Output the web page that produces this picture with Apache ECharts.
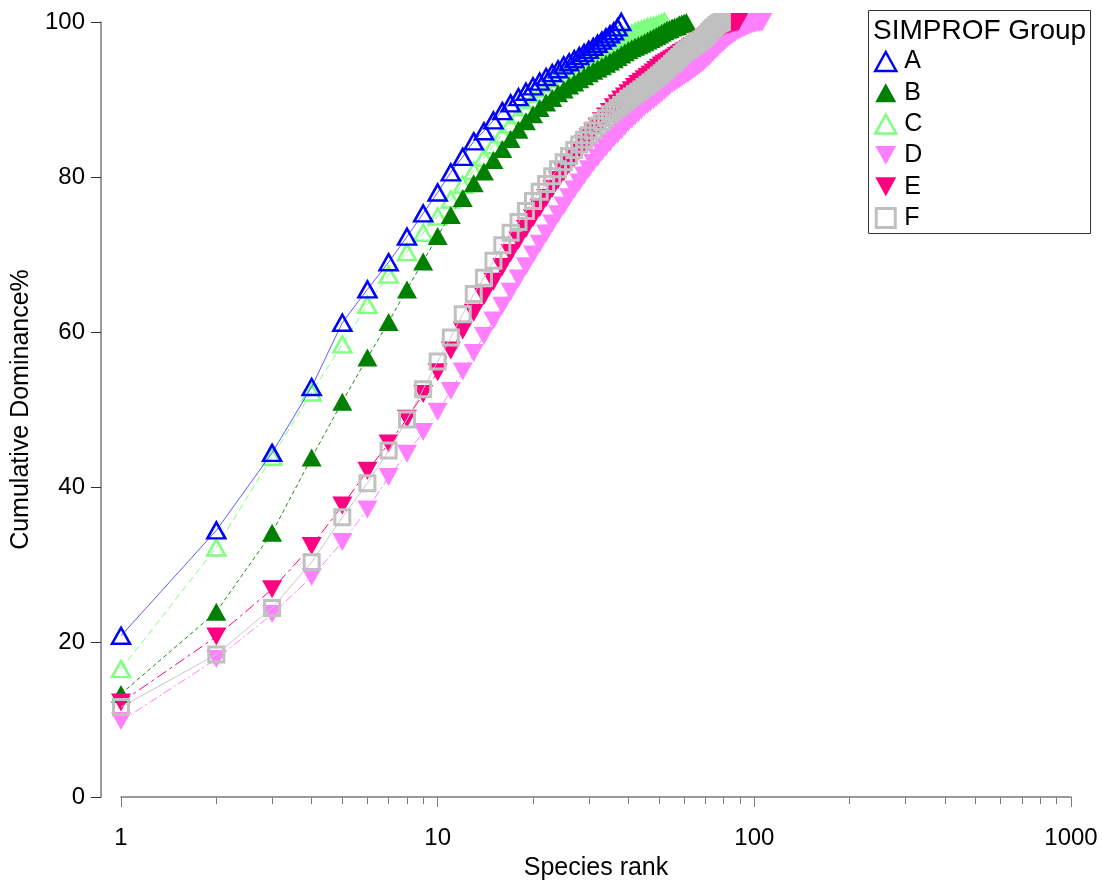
<!DOCTYPE html>
<html><head><meta charset="utf-8">
<script src="https://cdn.jsdelivr.net/npm/echarts@6/dist/echarts.min.js"></script>
<style>html,body{margin:0;padding:0;background:#fff}#c{width:1102px;height:886px}</style>
</head><body><div id="c"></div>
<script>
// ---- data (cumulative dominance % by species rank 1..n) ----
const groupA = [20.8, 34.4, 44.4, 52.9, 61.2, 65.5, 69.0, 72.3, 75.3, 78.0,
  80.6, 82.6, 84.6, 85.9, 87.3, 88.5, 89.5, 90.3, 91.0, 91.7,
  92.3, 92.9, 93.4, 93.9, 94.4, 94.8, 95.2, 95.6, 96.0, 96.4,
  96.8, 97.2, 97.6, 98.0, 98.4, 98.8, 99.3, 100];
const groupB = [13.3, 23.9, 34.1, 43.8, 51.0, 56.7, 61.3, 65.5, 69.1, 72.4,
  75.1, 77.3, 79.2, 80.7, 82.2, 83.6, 84.9, 86.1, 87.2, 88.1,
  88.9, 89.6, 90.2, 90.8, 91.3, 91.8, 92.2, 92.6, 93.0, 93.4,
  93.7, 94.0, 94.3, 94.6, 94.9, 95.2, 95.5, 95.8, 96.1, 96.4,
  96.6, 96.8, 97.0, 97.2, 97.4, 97.6, 97.8, 98.0, 98.2, 98.4,
  98.6, 98.8, 99.0, 99.1, 99.3, 99.4, 99.5, 99.7, 99.8, 99.9, 100];
const groupC = [16.5, 32.2, 43.9, 52.2, 58.4, 63.5, 67.4, 70.3, 72.8, 74.9,
  77.1, 79.0, 80.8, 82.5, 84.1, 85.5, 86.8, 88.0, 89.0, 89.9,
  90.7, 91.4, 92.1, 92.7, 93.3, 93.8, 94.3, 94.8, 95.2, 95.6,
  96.0, 96.3, 96.6, 96.9, 97.2, 97.5, 97.7, 97.9, 98.1, 98.3,
  98.5, 98.7, 98.9, 99.0, 99.15, 99.3, 99.4, 99.5, 99.6, 99.7, 99.85, 100];
const groupD = [9.8, 17.8, 23.6, 28.4, 32.9, 37.1, 41.3, 44.3, 47.1, 49.7,
  52.4, 54.9, 57.3, 59.5, 61.5, 63.4, 65.2, 66.9, 68.5, 70.0,
  71.4, 72.7, 74.0, 75.2, 76.3, 77.4, 78.4, 79.3, 80.2, 81.0,
  81.8, 82.5, 83.2, 83.8, 84.4, 85.0, 85.5, 86.0, 86.5, 87.0,
  87.4, 87.8, 88.2, 88.6, 89.0, 89.3, 89.6, 89.9, 90.2, 90.5,
  90.8, 91.1, 91.4, 91.7, 92.0, 92.2, 92.4, 92.6, 92.8, 93.0,
  93.2, 93.4, 93.6, 93.8, 94.0, 94.2, 94.4, 94.6, 94.8, 95.1,
  95.3, 95.5, 95.8, 96.0, 96.3, 96.5, 96.8, 97.0, 97.2, 97.4,
  97.6, 97.8, 98.0, 98.2, 98.3, 98.5, 98.6, 98.8, 98.9, 99.0,
  99.1, 99.2, 99.3, 99.4, 99.5, 99.55, 99.6, 99.7, 99.75, 99.8,
  99.85, 99.9, 99.92, 99.95, 99.97, 100];
const groupE = [12.2, 20.7, 26.8, 32.4, 37.6, 42.1, 45.6, 48.8, 52.0, 54.8,
  57.6, 60.2, 62.5, 64.6, 66.5, 68.4, 70.2, 71.8, 73.3, 74.7,
  76.0, 77.3, 78.5, 79.6, 80.6, 81.6, 82.5, 83.4, 84.3, 85.1,
  85.8, 86.5, 87.2, 87.8, 88.4, 89.0, 89.5, 90.0, 90.4, 90.8,
  91.2, 91.6, 92.0, 92.3, 92.6, 92.9, 93.2, 93.5, 93.8, 94.1,
  94.4, 94.6, 94.8, 95.0, 95.2, 95.4, 95.6, 95.8, 96.0, 96.2,
  96.3, 96.5, 96.7, 96.9, 97.0, 97.2, 97.4, 97.6, 97.8, 98.0,
  98.2, 98.4, 98.55, 98.7, 98.85, 99.0, 99.1, 99.2, 99.3, 99.4,
  99.5, 99.6, 99.65, 99.7, 99.8, 99.85, 99.9, 99.95, 100];
const groupF = [11.6, 18.4, 24.4, 30.3, 36.1, 40.5, 44.7, 48.7, 52.6, 56.2,
  59.3, 62.3, 64.9, 67.0, 69.2, 71.2, 72.8, 74.2, 75.6, 76.9,
  78.1, 79.1, 80.1, 81.0, 81.9, 82.7, 83.5, 84.2, 84.8, 85.4,
  86.0, 86.6, 87.1, 87.6, 88.1, 88.5, 88.9, 89.3, 89.7, 90.1,
  90.4, 90.7, 91.0, 91.3, 91.6, 91.9, 92.2, 92.5, 92.8, 93.1,
  93.4, 93.7, 94.0, 94.3, 94.6, 94.9, 95.2, 95.5, 95.8, 96.1,
  96.3, 96.5, 96.7, 96.9, 97.1, 97.3, 97.5, 97.7, 97.9, 98.1,
  98.4, 98.7, 99.0, 99.2, 99.4, 99.6, 99.8, 99.9, 100];
const groupNames = ['A', 'B', 'C', 'D', 'E', 'F'];
const xMajorTicks = [1, 10, 100, 1000];
const xMinorTicks = [2, 3, 4, 5, 6, 7, 8, 9, 20, 30, 40, 50, 60, 70, 80, 90,
  200, 300, 400, 500, 600, 700, 800, 900];
const yTicks = [0, 20, 40, 60, 80, 100];

// ---- styling ----
const FONT = "'Liberation Sans', Arial, sans-serif";
const AXIS_COLOR = '#7a7a7a';
const TRI_DOWN = 'path://M0,0L20,0L10,18Z';
const SQUARE = 'path://M0,0L18,0L18,18L0,18Z';
const styles = {
  A: { symbol: 'triangle', size: [18, 16], rotate: 0, fill: 'rgba(0,0,0,0)', border: '#0000ff', bw: 2.5,
       line: '#5c5cff', dash: 'solid', z: 3, legendIcon: 'triangle' },
  B: { symbol: 'triangle', size: [20, 18], rotate: 0, fill: '#008000', border: '#008000', bw: 0,
       line: '#1a8a1a', dash: [4, 3], z: 4, legendIcon: 'triangle' },
  C: { symbol: 'triangle', size: [18, 16], rotate: 0, fill: 'rgba(0,0,0,0)', border: '#80ff80', bw: 2.5,
       line: '#80ff80', dash: [7, 4], z: 2, legendIcon: 'triangle' },
  D: { symbol: 'triangle', size: [20, 18], rotate: 180, fill: '#ff80ff', border: '#ff80ff', bw: 0,
       line: '#ff80ff', dash: [9, 3, 2, 3], z: 5, legendIcon: TRI_DOWN },
  E: { symbol: 'triangle', size: [20, 18], rotate: 180, fill: '#ff0080', border: '#ff0080', bw: 0,
       line: '#ff0080', dash: [11, 4, 3, 4], z: 6, legendIcon: TRI_DOWN },
  F: { symbol: 'rect', size: [15, 15], rotate: 0, fill: 'rgba(0,0,0,0)', border: '#c0c0c0', bw: 3,
       line: '#c8c8c8', dash: 'solid', z: 7, legendIcon: SQUARE }
};
const groupValues = { A: groupA, B: groupB, C: groupC, D: groupD, E: groupE, F: groupF };

function toPoints(vals) { return vals.map((v, i) => [i + 1, v]); }

const series = groupNames.map(n => {
  const s = styles[n];
  return {
    name: n, type: 'line', xAxisIndex: 0, yAxisIndex: 0,
    data: toPoints(groupValues[n]),
    symbol: s.symbol, symbolSize: s.size, symbolRotate: s.rotate,
    showAllSymbol: true, clip: false, z: s.z,
    itemStyle: { color: s.fill, borderColor: s.border, borderWidth: s.bw },
    lineStyle: { color: s.line, width: 1, type: s.dash },
    emphasis: { disabled: true }, animation: false
  };
});

const legendData = groupNames.map(n => {
  const s = styles[n];
  return {
    name: n, icon: s.legendIcon,
    itemStyle: { color: s.fill, borderColor: s.border, borderWidth: s.bw }
  };
});

const chart = echarts.init(document.getElementById('c'), null, { renderer: 'canvas' });
chart.setOption({
  backgroundColor: '#ffffff',
  animation: false,
  textStyle: { fontFamily: FONT },
  grid: [
    { left: 121, right: 31, top: 22, bottom: 88 },
    { left: 121, right: 31, top: 22, bottom: 88 }
  ],
  xAxis: [
    {
      type: 'log', logBase: 10, min: xMajorTicks[0], max: xMajorTicks[xMajorTicks.length - 1],
      gridIndex: 0, position: 'bottom', offset: 17,
      axisLine: { show: true, lineStyle: { color: AXIS_COLOR, width: 1.5 } },
      axisTick: { show: true, length: 10, lineStyle: { color: AXIS_COLOR, width: 1 } },
      axisLabel: { fontSize: 24, color: '#000', margin: 12, fontFamily: FONT, formatter: v => String(v) },
      splitLine: { show: false }, minorTick: { show: false },
      name: 'Species rank', nameLocation: 'middle', nameGap: 42,
      nameTextStyle: { fontSize: 25, color: '#000', fontFamily: FONT }
    },
    {
      type: 'value', min: Math.log10(xMajorTicks[0]), max: Math.log10(xMajorTicks[xMajorTicks.length - 1]),
      gridIndex: 1, position: 'bottom', offset: 17,
      axisLine: { show: false },
      axisTick: { show: true, length: 6, customValues: xMinorTicks.map(v => Math.log10(v)),
                  lineStyle: { color: AXIS_COLOR, width: 1 } },
      axisLabel: { show: false }, splitLine: { show: false }
    }
  ],
  yAxis: [
    {
      type: 'value', min: yTicks[0], max: yTicks[yTicks.length - 1], interval: 20,
      gridIndex: 0, position: 'left', offset: 20,
      axisLine: { show: true, lineStyle: { color: AXIS_COLOR, width: 1.5 } },
      axisTick: { show: true, length: 10, lineStyle: { color: '#333', width: 1 } },
      axisLabel: { fontSize: 24, color: '#000', margin: 16, fontFamily: FONT },
      splitLine: { show: false },
      name: 'Cumulative Dominance%', nameLocation: 'middle', nameGap: 62,
      nameTextStyle: { fontSize: 25, color: '#000', fontFamily: FONT }
    },
    {
      type: 'value', min: 0, max: 100, gridIndex: 1, show: false
    }
  ],
  legend: {
    data: legendData, orient: 'vertical', left: 874, top: 49,
    itemWidth: 21, itemHeight: 19, itemGap: 6.3, padding: 0,
    selectedMode: false,
    textStyle: { fontSize: 25, color: '#000', fontFamily: FONT, padding: [0, 0, 0, 3] }
  },
  graphic: [
    { type: 'rect', z: 1, shape: { x: 868.5, y: 10.5, width: 222, height: 223 },
      style: { fill: '#fff', stroke: '#333', lineWidth: 1 } },
    { type: 'text', z: 2, x: 873, y: 31,
      style: { text: 'SIMPROF Group', fontSize: 28, fontFamily: FONT, fill: '#000', verticalAlign: 'middle' } }
  ],
  series: series
});
</script>
</body></html>
